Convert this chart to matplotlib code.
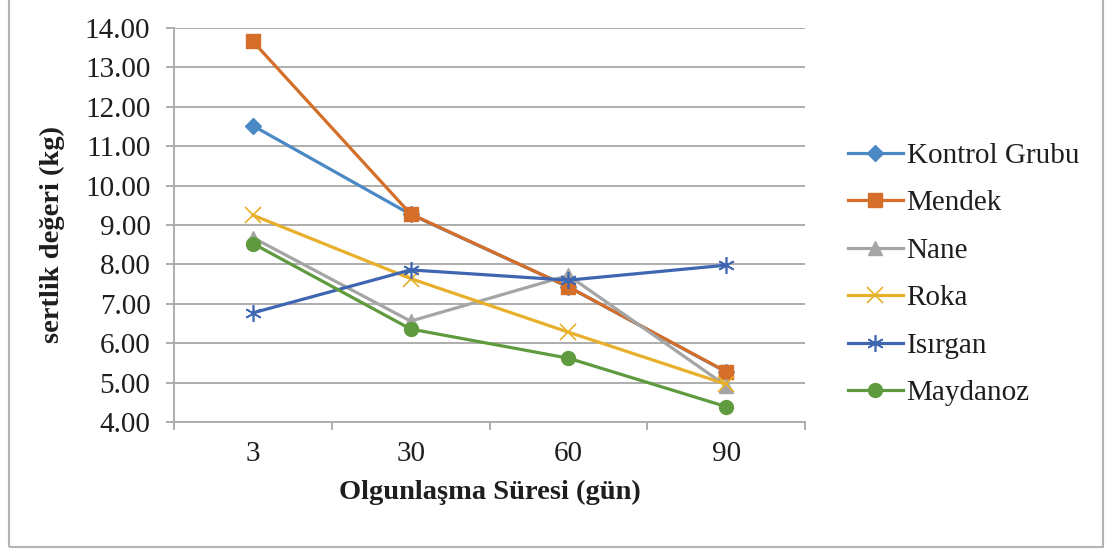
import matplotlib
matplotlib.use("Agg")
import matplotlib.pyplot as plt
from matplotlib.patches import Rectangle

# Ripening days and hardness values (kg) for each group
days = ["3", "30", "60", "90"]
kontrol = [11.52, 9.27, 7.43, 5.27]
mendek = [13.66, 9.28, 7.43, 5.28]
nane = [8.68, 6.56, 7.72, 4.92]
roka = [9.25, 7.64, 6.28, 4.96]
isirgan = [6.77, 7.86, 7.60, 7.98]
maydanoz = [8.53, 6.36, 5.62, 4.39]

series_names = ["Kontrol Grubu", "Mendek", "Nane", "Roka", "Isırgan", "Maydanoz"]
y_ticks = [4, 5, 6, 7, 8, 9, 10, 11, 12, 13, 14]

plt.rcParams['font.family'] = ['Liberation Serif', 'DejaVu Serif']

fig = plt.figure(figsize=(11.05, 5.49), dpi=100)
ax = fig.add_axes([174 / 1105, 1 - 422 / 549, (805 - 174) / 1105, (422 - 28) / 549])

styles = [
    dict(color="#4A89C4", marker="D", markersize=8),
    dict(color="#D46E28", marker="s", markersize=10),
    dict(color="#A5A5A5", marker="^", markersize=10),
    dict(color="#E8B02A", marker="x", markersize=11, markeredgewidth=1.2),
    dict(color="#3F66B0", marker=(6, 2, 0), markersize=12, markeredgewidth=1.2),
    dict(color="#5F9B3E", marker="o", markersize=10),
]
data = [kontrol, mendek, nane, roka, isirgan, maydanoz]
x = list(range(len(days)))

handles = []
for name, vals, st in zip(series_names, data, styles):
    line, = ax.plot(x, vals, linewidth=2.3, label=name, zorder=3, **st)
    handles.append(line)

ax.set_xlim(-0.5, len(days) - 0.5)
ax.set_ylim(4, 14)
ax.set_yticks(y_ticks)
ax.set_yticklabels([f"{v:.2f}" for v in y_ticks])
ax.set_xticks(x)
ax.set_xticklabels(days)
ax.set_xticks([i - 0.5 for i in range(len(days) + 1)], minor=True)

grid_col = "#ADADAD"
text_col = "#1E1E1E"
ax.grid(axis="y", color=grid_col, linewidth=1.4, zorder=0)
ax.set_axisbelow(True)
for s in ["top", "right"]:
    ax.spines[s].set_visible(False)
for s in ["left", "bottom"]:
    ax.spines[s].set_color(grid_col)
    ax.spines[s].set_linewidth(1.4)

ax.tick_params(axis="y", which="major", length=6, width=1.4, color=grid_col,
               labelsize=21, pad=11, labelcolor=text_col)
ax.tick_params(axis="x", which="major", length=0, labelsize=21, pad=14,
               labelcolor=text_col)
ax.tick_params(axis="x", which="minor", length=6, width=1.4, color=grid_col)

ax.set_xlabel("Olgunlaşma Süresi (gün)", fontsize=20.5, fontweight="bold",
              labelpad=9, color=text_col)
ax.set_ylabel("sertlik değeri (kg)", fontsize=20.5, fontweight="bold",
              color=text_col)
ax.yaxis.set_label_coords(-0.172, 0.475)

fig.legend(handles=handles, loc="upper left", bbox_to_anchor=(836 / 1105, 1 - 131 / 549),
           frameon=False, fontsize=21, handlelength=1.9, handletextpad=0.12,
           labelspacing=0.72, borderaxespad=0, labelcolor=text_col)

# outer chart border
fig.patches.append(Rectangle((8.5 / 1105, 2 / 549), (1103 - 8.5) / 1105, 1.0,
                             transform=fig.transFigure, fill=False,
                             edgecolor="#B4B4B4", linewidth=1.5))

fig.savefig("out.png", dpi=100)
